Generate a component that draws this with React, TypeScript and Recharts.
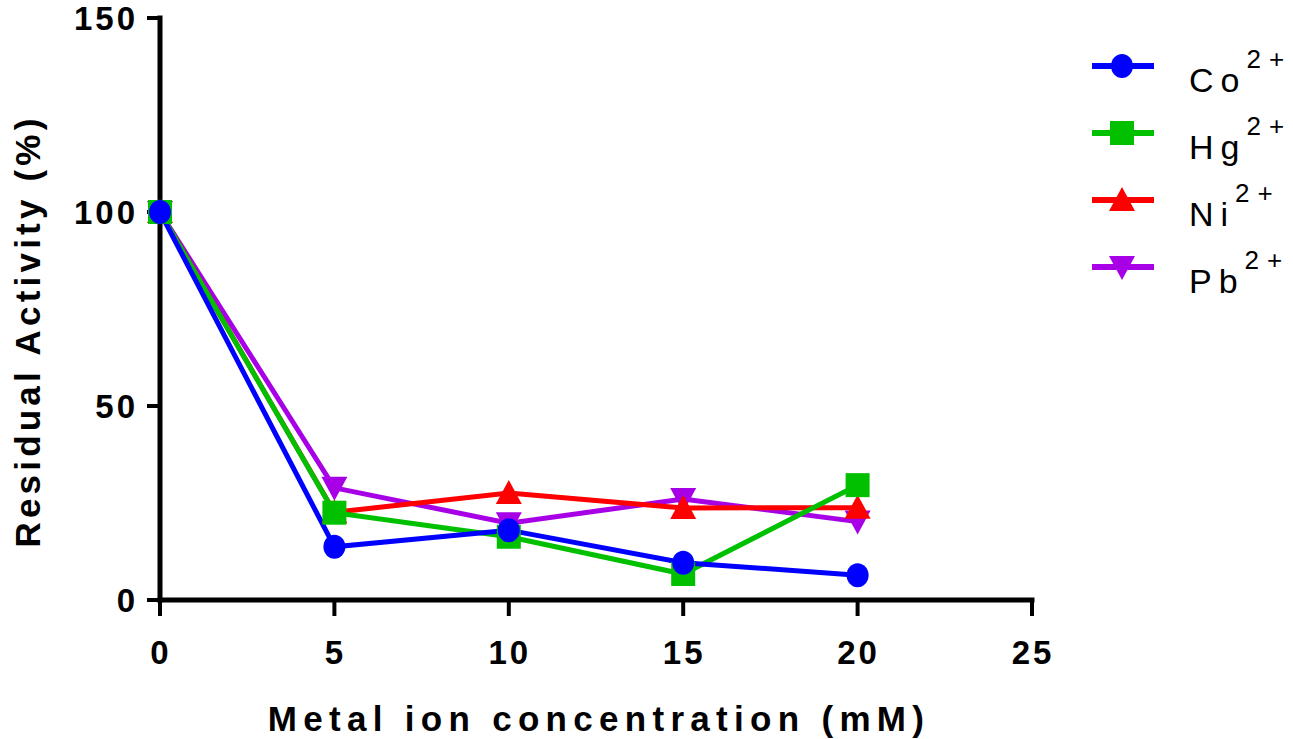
import React from 'react';
import { Label, Line, LineChart, XAxis, YAxis } from 'recharts';

// metal ion concentration, mM
const concentrations = [0, 5, 10, 15, 20];

// residual activity (%) per ion
const cobalt = [100, 13.7, 18.0, 9.6, 6.4];
const mercury = [100, 22.5, 16.3, 6.7, 29.6];
const nickel = [100, 22.6, 27.6, 23.7, 23.8];
const lead = [100, 28.9, 19.8, 26.0, 20.2];

const xTicks = [0, 5, 10, 15, 20, 25];
const yTicks = [0, 50, 100, 150];

type MarkerShape = 'circle' | 'square' | 'up' | 'down';

interface Series {
    key: string;
    symbol: string;
    color: string;
    shape: MarkerShape;
}

// legend order; plotted in reverse so cobalt sits on top
const series: Series[] = [
    { key: 'co', symbol: 'Co', color: '#0000ff', shape: 'circle' },
    { key: 'hg', symbol: 'Hg', color: '#00c000', shape: 'square' },
    { key: 'ni', symbol: 'Ni', color: '#ff0000', shape: 'up' },
    { key: 'pb', symbol: 'Pb', color: '#a800e6', shape: 'down' },
];

const data = concentrations.map((c, i) => ({
    conc: c,
    co: cobalt[i],
    hg: mercury[i],
    ni: nickel[i],
    pb: lead[i],
}));

const FONT = '"Liberation Sans", Arial, sans-serif';

function Marker({ cx, cy, shape, color }: { cx?: number; cy?: number; shape: MarkerShape; color: string }) {
    if (cx == null || cy == null) return null;
    switch (shape) {
        case 'circle':
            return <ellipse cx={cx} cy={cy} rx={11} ry={12} fill={color} />;
        case 'square':
            return <rect x={cx - 12} y={cy - 12} width={24} height={24} fill={color} />;
        case 'up':
            return <polygon points={`${cx},${cy - 13} ${cx + 13},${cy + 11} ${cx - 13},${cy + 11}`} fill={color} />;
        case 'down':
            return <polygon points={`${cx},${cy + 13} ${cx + 13},${cy - 11} ${cx - 13},${cy - 11}`} fill={color} />;
    }
}

const XTick = ({ x, y, payload }: any) => (
    <text x={x + 1} y={y} dy="0.71em" textAnchor="middle" fontFamily={FONT} fontWeight="bold" fontSize={33} letterSpacing={3} fill="#000">
        {payload.value}
    </text>
);

const YTick = ({ x, y, payload }: any) => (
    <text x={x} y={y} dy="0.36em" textAnchor="end" fontFamily={FONT} fontWeight="bold" fontSize={33} letterSpacing={3} fill="#000">
        {payload.value}
    </text>
);

const XTitle = ({ viewBox }: any) => (
    <text
        x={viewBox.x + viewBox.width / 2 + 3}
        y={viewBox.y + 131}
        textAnchor="middle"
        fontFamily={FONT}
        fontWeight="bold"
        fontSize={35}
        letterSpacing={6.3}
        fill="#000"
    >
        Metal ion concentration (mM)
    </text>
);

const YTitle = ({ viewBox }: any) => {
    const x = viewBox.x + 40;
    const y = viewBox.y + viewBox.height / 2 + 22;
    return (
        <text
            x={x}
            y={y}
            transform={`rotate(-90, ${x}, ${y})`}
            textAnchor="middle"
            fontFamily={FONT}
            fontWeight="bold"
            fontSize={35}
            letterSpacing={4.2}
            fill="#000"
        >
            Residual Activity (%)
        </text>
    );
};

function IonLegend() {
    return (
        <svg width={208} height={280} style={{ position: 'absolute', left: 1085, top: 40 }}>
            {series.map((s, i) => {
                const cy = 26 + i * 67;
                return (
                    <g key={s.key}>
                        <line x1={7} x2={69} y1={cy} y2={cy} stroke={s.color} strokeWidth={6} />
                        <Marker cx={37} cy={cy} shape={s.shape} color={s.color} />
                        <text x={104} y={cy + 26} fontFamily={FONT} fontSize={34} letterSpacing={7} fill="#000">
                            {s.symbol}
                            <tspan dy={-24} fontSize={26} letterSpacing={8}>2+</tspan>
                        </text>
                    </g>
                );
            })}
        </svg>
    );
}

export default function App() {
    const axisStyle = { stroke: '#000', strokeWidth: 5, strokeLinecap: 'square' as const };
    const tickStyle = { stroke: '#000', strokeWidth: 4 };

    return (
        <div style={{ position: 'relative', width: 1293, height: 739 }}>
            <style>{'body{margin:0}'}</style>
            <LineChart
                width={1293}
                height={739}
                data={data}
                margin={{ top: 18, right: 261, bottom: 9, left: 0 }}
            >
                <XAxis
                    dataKey="conc"
                    type="number"
                    domain={[0, 25]}
                    ticks={xTicks}
                    interval={0}
                    height={130}
                    tickSize={16}
                    tickMargin={25}
                    axisLine={axisStyle}
                    tickLine={tickStyle}
                    tick={<XTick />}
                >
                    <Label content={<XTitle />} />
                </XAxis>
                <YAxis
                    type="number"
                    domain={[0, 150]}
                    ticks={yTicks}
                    interval={0}
                    width={160}
                    tickSize={13}
                    tickMargin={9}
                    axisLine={axisStyle}
                    tickLine={tickStyle}
                    tick={<YTick />}
                >
                    <Label content={<YTitle />} />
                </YAxis>
                {[...series].reverse().map((s) => (
                    <Line
                        key={s.key}
                        dataKey={s.key}
                        type="linear"
                        stroke={s.color}
                        strokeWidth={5}
                        isAnimationActive={false}
                        dot={(p: any) => <Marker key={`${s.key}-${p.index}`} cx={p.cx} cy={p.cy} shape={s.shape} color={s.color} />}
                        activeDot={false}
                    />
                ))}
            </LineChart>
            <IonLegend />
        </div>
    );
}
